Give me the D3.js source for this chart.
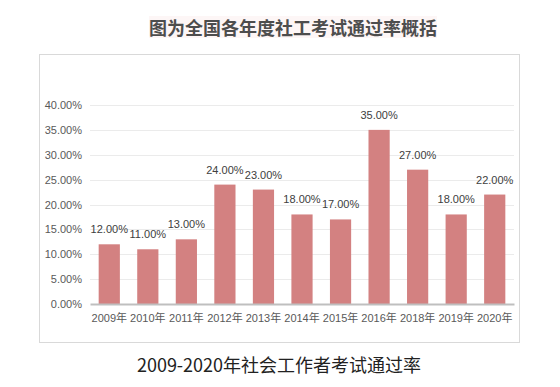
<!doctype html>
<html lang="zh-CN">
<head>
  <meta charset="utf-8">
  <title>社工考试通过率</title>
  <script src="https://d3js.org/d3.v7.min.js"></script>
  <style>
    body { margin: 0; background: #fff; }
    svg text { font-family: "Liberation Sans", Arial, "Noto Sans CJK SC", sans-serif; }
  </style>
</head>
<body>
<svg id="chart" width="560" height="387"></svg>
<script>
// data
var years = ["2009年", "2010年", "2011年", "2012年", "2013年", "2014年", "2015年", "2016年", "2018年", "2019年", "2020年"];
var rates = [12, 11, 13, 24, 23, 18, 17, 35, 27, 18, 22];
var yTicks = [0, 5, 10, 15, 20, 25, 30, 35, 40];

var svg = d3.select("#chart");

// title with faint highlight
var title = svg.append("text")
  .attr("x", 293).attr("y", 27)
  .attr("text-anchor", "middle")
  .attr("dominant-baseline", "central")
  .style("font-family", "'Noto Sans CJK SC', sans-serif")
  .style("font-size", "18px")
  .style("font-weight", "bold")
  .style("fill", "#4d4d4d")
  .text("图为全国各年度社工考试通过率概括");
var tb = title.node().getBBox();
svg.insert("rect", "text")
  .attr("x", tb.x).attr("y", tb.y + 2)
  .attr("width", tb.width).attr("height", tb.height - 4)
  .attr("fill", "#fdf6f6");

// chart frame
svg.append("rect")
  .attr("x", 39.5).attr("y", 54.5)
  .attr("width", 480).attr("height", 288)
  .attr("fill", "#fff")
  .attr("stroke", "#d9d9d9")
  .attr("stroke-width", 1);

var x = d3.scaleBand().domain(years).range([90, 514]).paddingInner(0.45).paddingOuter(0.225);
var y = d3.scaleLinear().domain([0, 40]).range([304, 105]);

var g = svg.append("g");

// grid
g.selectAll(".grid")
  .data(yTicks.filter(function(d) { return d > 0; }))
  .enter().append("line")
  .attr("x1", 90).attr("x2", 514)
  .attr("y1", function(d) { return Math.round(y(d)) + 0.5; })
  .attr("y2", function(d) { return Math.round(y(d)) + 0.5; })
  .attr("stroke", "#ebebeb");

// y axis labels
var yAxis = g.append("g")
  .attr("transform", "translate(90,0)")
  .call(d3.axisLeft(y).tickValues(yTicks).tickSize(0).tickPadding(8)
    .tickFormat(function(d) { return d.toFixed(2) + "%"; }));
yAxis.select(".domain").remove();
yAxis.selectAll("text").style("font-size", "11px").style("fill", "#595959");

// bars
g.selectAll(".bar")
  .data(rates)
  .enter().append("rect")
  .attr("class", "bar")
  .attr("x", function(d, i) { return x(years[i]); })
  .attr("y", function(d) { return y(d); })
  .attr("width", x.bandwidth())
  .attr("height", function(d) { return y(0) - y(d); })
  .attr("fill", "#d38181");

// value labels
g.selectAll(".lbl")
  .data(rates)
  .enter().append("text")
  .attr("x", function(d, i) { return x(years[i]) + x.bandwidth() / 2; })
  .attr("y", function(d) { return y(d) - 11; })
  .attr("text-anchor", "middle")
  .style("font-size", "11px")
  .style("fill", "#404040")
  .text(function(d) { return d.toFixed(2) + "%"; });

// x axis
var xAxis = g.append("g")
  .attr("transform", "translate(0,304)")
  .call(d3.axisBottom(x).tickSize(0).tickPadding(10));
xAxis.select(".domain").attr("stroke", "#bfbfbf").attr("stroke-width", 2);
xAxis.selectAll("text").style("font-size", "11px").style("fill", "#595959");

// caption
svg.append("text")
  .attr("x", 279).attr("y", 364)
  .attr("text-anchor", "middle")
  .attr("dominant-baseline", "central")
  .style("font-family", "'Noto Sans CJK SC', sans-serif")
  .style("font-size", "18px")
  .style("fill", "#222")
  .text("2009-2020年社会工作者考试通过率");
</script>
</body>
</html>
